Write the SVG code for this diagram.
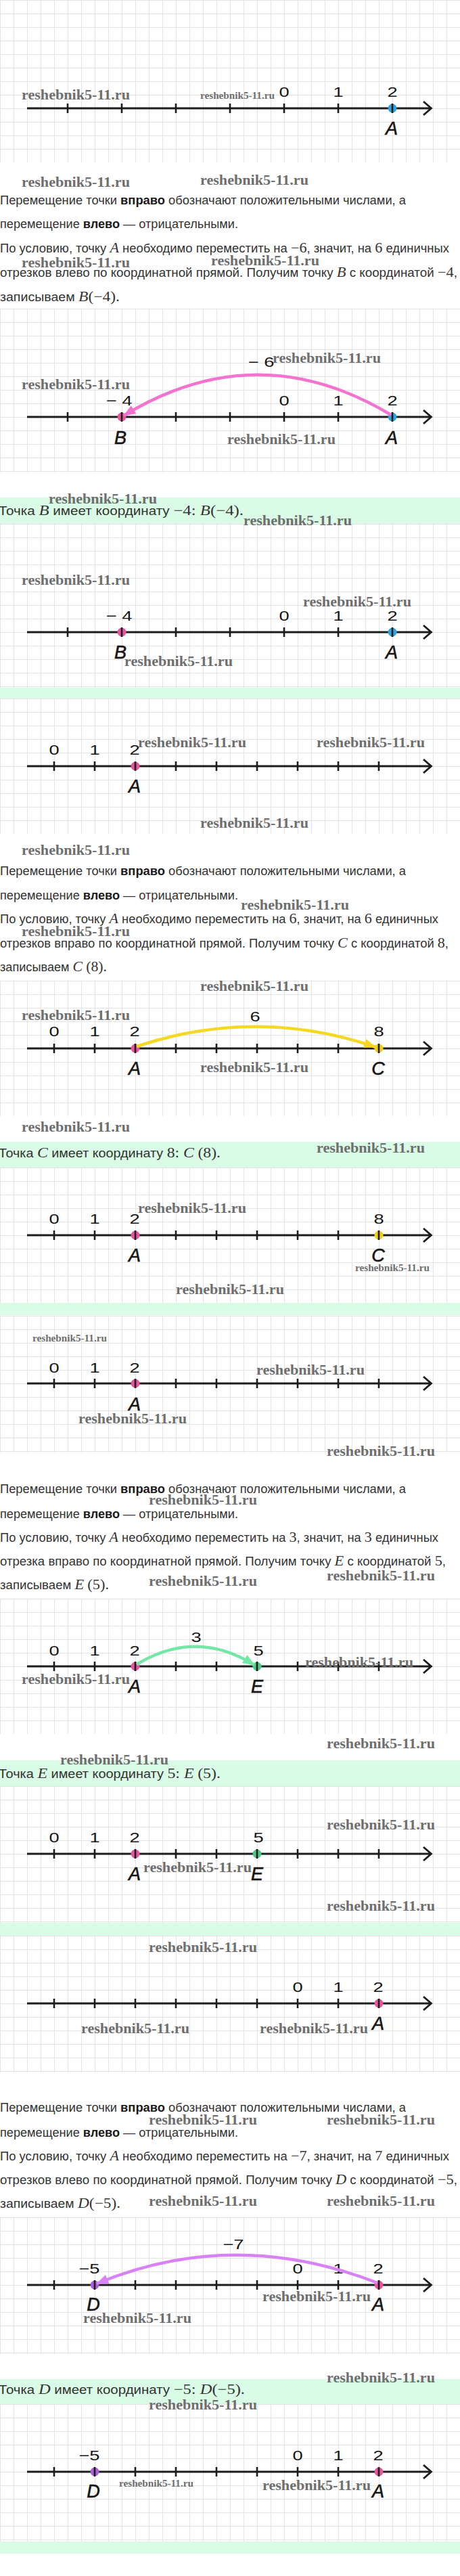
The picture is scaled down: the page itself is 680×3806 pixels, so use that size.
<svg xmlns="http://www.w3.org/2000/svg" width="680" height="3806" viewBox="0 0 680 3806">
<defs>
<style>
.t{font-family:"Liberation Sans",Arial,sans-serif;font-size:17.5px;fill:#333}
.bd{font-weight:bold;fill:#1a1a1a}
.m{font-family:"Liberation Serif","Times New Roman",serif;font-size:21px}
.mi{font-family:"Liberation Serif","Times New Roman",serif;font-size:21px;font-style:italic}
.lb{font-family:"Liberation Sans",Arial,sans-serif;font-size:21px;fill:#151515;text-anchor:middle;transform-box:fill-box;transform-origin:center;transform:scaleX(1.3)}
.pt{font-family:"Liberation Sans",Arial,sans-serif;font-size:27px;font-style:italic;fill:#151515;stroke:#151515;stroke-width:0.6;text-anchor:middle}
.wm{font-family:"Liberation Serif","Times New Roman",serif;font-weight:bold;font-size:21px;fill:#6e6e6e}
.ws{font-size:14.5px}
.ax{fill:none;stroke:#1c1c1c;stroke-width:2.8}
.tk{fill:none;stroke:#1c1c1c;stroke-width:2.6}
.grid{fill:url(#grid)}
.ans{fill:#dafbe5}
.arc{fill:none;stroke-width:4.5}
.pk{fill:#e8559f}.bl{fill:#2ea3dc}.ye{fill:#f2cf17}.gr{fill:#4cc985}.vi{fill:#a95fd8}
</style>
<pattern id="grid" width="20" height="20" patternUnits="userSpaceOnUse">
<rect width="20" height="20" fill="#fff"/>
<path d="M0 0.5H20M0.5 0V20" stroke="#e4e4e4" stroke-width="1" fill="none"/>
</pattern>
<marker id="hPink" viewBox="0 0 18 14" refX="17" refY="7" markerWidth="18" markerHeight="14" markerUnits="userSpaceOnUse" orient="auto"><path d="M0 0L18 7L0 14z" fill="#f274cf"/></marker>
<marker id="hYel" viewBox="0 0 18 14" refX="17" refY="7" markerWidth="18" markerHeight="14" markerUnits="userSpaceOnUse" orient="auto"><path d="M0 0L18 7L0 14z" fill="#f5d823"/></marker>
<marker id="hGrn" viewBox="0 0 18 14" refX="17" refY="7" markerWidth="18" markerHeight="14" markerUnits="userSpaceOnUse" orient="auto"><path d="M0 0L18 7L0 14z" fill="#74e6a6"/></marker>
<marker id="hVio" viewBox="0 0 18 14" refX="17" refY="7" markerWidth="18" markerHeight="14" markerUnits="userSpaceOnUse" orient="auto"><path d="M0 0L18 7L0 14z" fill="#d982f5"/></marker>
</defs>
<rect width="680" height="3806" fill="#fff"/>

<g id="answer-boxes">
<rect class="ans" x="0" y="735" width="680" height="297"/>
<rect class="ans" x="0" y="1687" width="680" height="256"/>
<rect class="ans" x="0" y="2601" width="680" height="261"/>
<rect class="ans" x="0" y="3515" width="680" height="258"/>
</g>

<g id="d1">
<rect class="grid" width="680" height="240"/>
<path class="ax" d="M40 160H637M626 150L637.5 160L626 170"/>
<circle class="bl" cx="580" cy="160" r="6.5"/>
<path class="tk" d="M100 153v14M180 153v14M260 153v14M340 153v14M420 153v14M500 153v14M580 153v14"/>
<text class="lb" x="420" y="143">0</text><text class="lb" x="500" y="143">1</text><text class="lb" x="580" y="143">2</text>
<text class="pt" x="579" y="199">A</text>
</g>

<g id="d2">
<rect class="grid" width="680" height="242" transform="translate(0 456)"/>
<path class="ax" d="M40 616H637M626 606L637.5 616L626 626"/>
<circle class="pk" cx="180" cy="616" r="6.5"/><circle class="bl" cx="580" cy="616" r="6.5"/>
<path class="tk" d="M100 609v14M180 609v14M260 609v14M340 609v14M420 609v14M500 609v14M580 609v14"/>
<text class="lb" x="176" y="599">− 4</text><text class="lb" x="420" y="599">0</text><text class="lb" x="500" y="599">1</text><text class="lb" x="580" y="599">2</text>
<text class="pt" x="178" y="656">B</text><text class="pt" x="579" y="656">A</text>
</g>

<g id="d3">
<rect class="grid" width="680" height="242" transform="translate(0 774)"/>
<path class="ax" d="M40 934H637M626 924L637.5 934L626 944"/>
<circle class="pk" cx="180" cy="934" r="6.5"/><circle class="bl" cx="580" cy="934" r="6.5"/>
<path class="tk" d="M100 927v14M180 927v14M260 927v14M340 927v14M420 927v14M500 927v14M580 927v14"/>
<text class="lb" x="176" y="917">− 4</text><text class="lb" x="420" y="917">0</text><text class="lb" x="500" y="917">1</text><text class="lb" x="580" y="917">2</text>
<text class="pt" x="178" y="973">B</text><text class="pt" x="579" y="973">A</text>
</g>

<g id="d4">
<rect class="grid" width="680" height="200" transform="translate(0 1032)"/>
<path class="ax" d="M40 1132H637M626 1122L637.5 1132L626 1142"/>
<circle class="pk" cx="200" cy="1132" r="6.5"/>
<path class="tk" d="M80 1125v14M140 1125v14M200 1125v14M260 1125v14M320 1125v14M380 1125v14M440 1125v14M500 1125v14M560 1125v14"/>
<text class="lb" x="80" y="1115">0</text><text class="lb" x="140" y="1115">1</text><text class="lb" x="199" y="1115">2</text>
<text class="pt" x="199" y="1171">A</text>
</g>

<g id="d5">
<rect class="grid" width="680" height="200" transform="translate(0 1449)"/>
<path class="ax" d="M40 1549H637M626 1539L637.5 1549L626 1559"/>
<circle class="pk" cx="200" cy="1549" r="6.5"/><circle class="ye" cx="560" cy="1549" r="6.5"/>
<path class="tk" d="M80 1542v14M140 1542v14M200 1542v14M260 1542v14M320 1542v14M380 1542v14M440 1542v14M500 1542v14M560 1542v14"/>
<text class="lb" x="80" y="1531">0</text><text class="lb" x="140" y="1531">1</text><text class="lb" x="199" y="1531">2</text><text class="lb" x="560" y="1531">8</text>
<text class="pt" x="199" y="1588">A</text><text class="pt" x="559" y="1588">C</text>
</g>

<g id="d6">
<rect class="grid" width="680" height="200" transform="translate(0 1725)"/>
<path class="ax" d="M40 1825H637M626 1815L637.5 1825L626 1835"/>
<circle class="pk" cx="200" cy="1825" r="6.5"/><circle class="ye" cx="560" cy="1825" r="6.5"/>
<path class="tk" d="M80 1818v14M140 1818v14M200 1818v14M260 1818v14M320 1818v14M380 1818v14M440 1818v14M500 1818v14M560 1818v14"/>
<text class="lb" x="80" y="1808">0</text><text class="lb" x="140" y="1808">1</text><text class="lb" x="199" y="1808">2</text><text class="lb" x="560" y="1808">8</text>
<text class="pt" x="199" y="1864">A</text><text class="pt" x="559" y="1864">C</text>
</g>

<g id="d7">
<rect class="grid" width="680" height="202" transform="translate(0 1944)"/>
<path class="ax" d="M40 2044H637M626 2034L637.5 2044L626 2054"/>
<circle class="pk" cx="200" cy="2044" r="6.5"/>
<path class="tk" d="M80 2037v14M140 2037v14M200 2037v14M260 2037v14M320 2037v14M380 2037v14M440 2037v14M500 2037v14M560 2037v14"/>
<text class="lb" x="80" y="2028">0</text><text class="lb" x="140" y="2028">1</text><text class="lb" x="199" y="2028">2</text>
<text class="pt" x="199" y="2084">A</text>
</g>

<g id="d8">
<rect class="grid" width="680" height="200" transform="translate(0 2362)"/>
<path class="ax" d="M40 2462H637M626 2452L637.5 2462L626 2472"/>
<circle class="pk" cx="200" cy="2462" r="6.5"/><circle class="gr" cx="380" cy="2462" r="6.5"/>
<path class="tk" d="M80 2455v14M140 2455v14M200 2455v14M260 2455v14M320 2455v14M380 2455v14M440 2455v14M500 2455v14M560 2455v14"/>
<text class="lb" x="80" y="2446">0</text><text class="lb" x="140" y="2446">1</text><text class="lb" x="199" y="2446">2</text><text class="lb" x="382" y="2446">5</text>
<text class="pt" x="199" y="2501">A</text><text class="pt" x="380" y="2501">E</text>
</g>

<g id="d9">
<rect class="grid" width="680" height="202" transform="translate(0 2639)"/>
<path class="ax" d="M40 2739H637M626 2729L637.5 2739L626 2749"/>
<circle class="pk" cx="200" cy="2739" r="6.5"/><circle class="gr" cx="380" cy="2739" r="6.5"/>
<path class="tk" d="M80 2732v14M140 2732v14M200 2732v14M260 2732v14M320 2732v14M380 2732v14M440 2732v14M500 2732v14M560 2732v14"/>
<text class="lb" x="80" y="2722">0</text><text class="lb" x="140" y="2722">1</text><text class="lb" x="199" y="2722">2</text><text class="lb" x="382" y="2722">5</text>
<text class="pt" x="199" y="2778">A</text><text class="pt" x="380" y="2778">E</text>
</g>

<g id="d10">
<rect class="grid" width="680" height="202" transform="translate(0 2860)"/>
<path class="ax" d="M40 2960H637M626 2950L637.5 2960L626 2970"/>
<circle class="pk" cx="560" cy="2960" r="6.5"/>
<path class="tk" d="M80 2953v14M140 2953v14M200 2953v14M260 2953v14M320 2953v14M380 2953v14M440 2953v14M500 2953v14M560 2953v14"/>
<text class="lb" x="440" y="2943">0</text><text class="lb" x="500" y="2943">1</text><text class="lb" x="559" y="2943">2</text>
<text class="pt" x="559" y="2999">A</text>
</g>

<g id="d11">
<rect class="grid" width="680" height="202" transform="translate(0 3276)"/>
<path class="ax" d="M40 3376H637M626 3366L637.5 3376L626 3386"/>
<circle class="vi" cx="140" cy="3376" r="6.5"/><circle class="pk" cx="560" cy="3376" r="6.5"/>
<path class="tk" d="M80 3369v14M140 3369v14M200 3369v14M260 3369v14M320 3369v14M380 3369v14M440 3369v14M500 3369v14M560 3369v14"/>
<text class="lb" x="132" y="3359">−5</text><text class="lb" x="440" y="3359">0</text><text class="lb" x="500" y="3359">1</text><text class="lb" x="559" y="3359">2</text>
<text class="pt" x="138" y="3414">D</text><text class="pt" x="559" y="3414">A</text>
</g>

<g id="d12">
<rect class="grid" width="680" height="203" transform="translate(0 3552)"/>
<path class="ax" d="M40 3652H637M626 3642L637.5 3652L626 3662"/>
<circle class="vi" cx="140" cy="3652" r="6.5"/><circle class="pk" cx="560" cy="3652" r="6.5"/>
<path class="tk" d="M80 3645v14M140 3645v14M200 3645v14M260 3645v14M320 3645v14M380 3645v14M440 3645v14M500 3645v14M560 3645v14"/>
<text class="lb" x="132" y="3635">−5</text><text class="lb" x="440" y="3635">0</text><text class="lb" x="500" y="3635">1</text><text class="lb" x="559" y="3635">2</text>
<text class="pt" x="138" y="3690">D</text><text class="pt" x="559" y="3690">A</text>
</g>

<g id="connectors">
<path class="arc" stroke="#f274cf" marker-end="url(#hPink)" d="M578 613Q380 494 183 614"/>
<text class="lb" x="386" y="542">− 6</text>
<path class="arc" stroke="#f5d823" marker-end="url(#hYel)" d="M202 1546Q380 1487 555 1547"/>
<text class="lb" x="377" y="1509">6</text>
<path class="arc" stroke="#74e6a6" marker-end="url(#hGrn)" d="M202 2459Q290 2406 376 2460"/>
<text class="lb" x="290" y="2426">3</text>
<path class="arc" stroke="#d982f5" marker-end="url(#hVio)" d="M558 3373Q345 3290 143 3374"/>
<text class="lb" x="345" y="3323">−7</text>
</g>

<g id="text1">
<text class="t" x="0" y="302" textLength="600" lengthAdjust="spacingAndGlyphs">Перемещение точки <tspan class="bd">вправо</tspan> обозначают положительными числами, а</text>
<text class="t" x="0" y="337" textLength="352" lengthAdjust="spacingAndGlyphs">перемещение <tspan class="bd">влево</tspan> — отрицательными.</text>
<text class="t" x="0" y="373" textLength="664" lengthAdjust="spacingAndGlyphs">По условию, точку <tspan class="mi">A</tspan> необходимо переместить на <tspan class="m">−6</tspan>, значит, на <tspan class="m">6</tspan> единичных</text>
<text class="t" x="0" y="409" textLength="676" lengthAdjust="spacingAndGlyphs">отрезков влево по координатной прямой. Получим точку <tspan class="mi">B</tspan> с координатой <tspan class="m">−4</tspan>,</text>
<text class="t" x="0" y="445" textLength="177" lengthAdjust="spacingAndGlyphs">записываем <tspan class="mi">B</tspan><tspan class="m">(−4).</tspan></text>
<text class="t" x="-2" y="761" textLength="362" lengthAdjust="spacingAndGlyphs">Точка <tspan class="mi">B</tspan> имеет координату <tspan class="m">−4: </tspan><tspan class="mi">B</tspan><tspan class="m">(−4).</tspan></text>
</g>
<g id="text2">
<text class="t" x="0" y="1293" textLength="600" lengthAdjust="spacingAndGlyphs">Перемещение точки <tspan class="bd">вправо</tspan> обозначают положительными числами, а</text>
<text class="t" x="0" y="1329" textLength="352" lengthAdjust="spacingAndGlyphs">перемещение <tspan class="bd">влево</tspan> — отрицательными.</text>
<text class="t" x="0" y="1364" textLength="648" lengthAdjust="spacingAndGlyphs">По условию, точку <tspan class="mi">A</tspan> необходимо переместить на <tspan class="m">6</tspan>, значит, на <tspan class="m">6</tspan> единичных</text>
<text class="t" x="0" y="1400" textLength="663" lengthAdjust="spacingAndGlyphs">отрезков вправо по координатной прямой. Получим точку <tspan class="mi">C</tspan> с координатой <tspan class="m">8</tspan>,</text>
<text class="t" x="0" y="1435" textLength="158" lengthAdjust="spacingAndGlyphs">записываем <tspan class="mi">C</tspan> <tspan class="m">(8).</tspan></text>
<text class="t" x="-2" y="1710" textLength="328" lengthAdjust="spacingAndGlyphs">Точка <tspan class="mi">C</tspan> имеет координату <tspan class="m">8: </tspan><tspan class="mi">C</tspan> <tspan class="m">(8).</tspan></text>
</g>
<g id="text3">
<text class="t" x="0" y="2206" textLength="600" lengthAdjust="spacingAndGlyphs">Перемещение точки <tspan class="bd">вправо</tspan> обозначают положительными числами, а</text>
<text class="t" x="0" y="2243" textLength="352" lengthAdjust="spacingAndGlyphs">перемещение <tspan class="bd">влево</tspan> — отрицательными.</text>
<text class="t" x="0" y="2278" textLength="648" lengthAdjust="spacingAndGlyphs">По условию, точку <tspan class="mi">A</tspan> необходимо переместить на <tspan class="m">3</tspan>, значит, на <tspan class="m">3</tspan> единичных</text>
<text class="t" x="0" y="2313" textLength="659" lengthAdjust="spacingAndGlyphs">отрезка вправо по координатной прямой. Получим точку <tspan class="mi">E</tspan> с координатой <tspan class="m">5</tspan>,</text>
<text class="t" x="0" y="2348" textLength="161" lengthAdjust="spacingAndGlyphs">записываем <tspan class="mi">E</tspan> <tspan class="m">(5).</tspan></text>
<text class="t" x="-2" y="2627" textLength="328" lengthAdjust="spacingAndGlyphs">Точка <tspan class="mi">E</tspan> имеет координату <tspan class="m">5: </tspan><tspan class="mi">E</tspan> <tspan class="m">(5).</tspan></text>
</g>
<g id="text4">
<text class="t" x="0" y="3120" textLength="600" lengthAdjust="spacingAndGlyphs">Перемещение точки <tspan class="bd">вправо</tspan> обозначают положительными числами, а</text>
<text class="t" x="0" y="3157" textLength="352" lengthAdjust="spacingAndGlyphs">перемещение <tspan class="bd">влево</tspan> — отрицательными.</text>
<text class="t" x="0" y="3192" textLength="664" lengthAdjust="spacingAndGlyphs">По условию, точку <tspan class="mi">A</tspan> необходимо переместить на <tspan class="m">−7</tspan>, значит, на <tspan class="m">7</tspan> единичных</text>
<text class="t" x="0" y="3227" textLength="676" lengthAdjust="spacingAndGlyphs">отрезков влево по координатной прямой. Получим точку <tspan class="mi">D</tspan> с координатой <tspan class="m">−5</tspan>,</text>
<text class="t" x="0" y="3262" textLength="178" lengthAdjust="spacingAndGlyphs">записываем <tspan class="mi">D</tspan><tspan class="m">(−5).</tspan></text>
<text class="t" x="-2" y="3537" textLength="364" lengthAdjust="spacingAndGlyphs">Точка <tspan class="mi">D</tspan> имеет координату <tspan class="m">−5: </tspan><tspan class="mi">D</tspan><tspan class="m">(−5).</tspan></text>
</g>

<g id="watermarks">
<text class="wm" x="32" y="147" textLength="160" lengthAdjust="spacingAndGlyphs">reshebnik5-11.ru</text>
<text class="wm ws" x="296" y="146" textLength="110" lengthAdjust="spacingAndGlyphs">reshebnik5-11.ru</text>
<text class="wm" x="32" y="276" textLength="160" lengthAdjust="spacingAndGlyphs">reshebnik5-11.ru</text>
<text class="wm" x="296" y="273" textLength="160" lengthAdjust="spacingAndGlyphs">reshebnik5-11.ru</text>
<text class="wm" x="32" y="395" textLength="160" lengthAdjust="spacingAndGlyphs">reshebnik5-11.ru</text>
<text class="wm" x="312" y="392" textLength="160" lengthAdjust="spacingAndGlyphs">reshebnik5-11.ru</text>
<text class="wm" x="403" y="536" textLength="160" lengthAdjust="spacingAndGlyphs">reshebnik5-11.ru</text>
<text class="wm" x="32" y="575" textLength="160" lengthAdjust="spacingAndGlyphs">reshebnik5-11.ru</text>
<text class="wm" x="336" y="656" textLength="160" lengthAdjust="spacingAndGlyphs">reshebnik5-11.ru</text>
<text class="wm" x="72" y="744" textLength="160" lengthAdjust="spacingAndGlyphs">reshebnik5-11.ru</text>
<text class="wm" x="360" y="776" textLength="160" lengthAdjust="spacingAndGlyphs">reshebnik5-11.ru</text>
<text class="wm" x="32" y="864" textLength="160" lengthAdjust="spacingAndGlyphs">reshebnik5-11.ru</text>
<text class="wm" x="448" y="896" textLength="160" lengthAdjust="spacingAndGlyphs">reshebnik5-11.ru</text>
<text class="wm" x="184" y="984" textLength="160" lengthAdjust="spacingAndGlyphs">reshebnik5-11.ru</text>
<text class="wm" x="204" y="1104" textLength="160" lengthAdjust="spacingAndGlyphs">reshebnik5-11.ru</text>
<text class="wm" x="468" y="1104" textLength="160" lengthAdjust="spacingAndGlyphs">reshebnik5-11.ru</text>
<text class="wm" x="296" y="1223" textLength="160" lengthAdjust="spacingAndGlyphs">reshebnik5-11.ru</text>
<text class="wm" x="32" y="1263" textLength="160" lengthAdjust="spacingAndGlyphs">reshebnik5-11.ru</text>
<text class="wm" x="356" y="1344" textLength="160" lengthAdjust="spacingAndGlyphs">reshebnik5-11.ru</text>
<text class="wm" x="32" y="1383" textLength="160" lengthAdjust="spacingAndGlyphs">reshebnik5-11.ru</text>
<text class="wm" x="296" y="1464" textLength="160" lengthAdjust="spacingAndGlyphs">reshebnik5-11.ru</text>
<text class="wm" x="32" y="1507" textLength="160" lengthAdjust="spacingAndGlyphs">reshebnik5-11.ru</text>
<text class="wm" x="296" y="1584" textLength="160" lengthAdjust="spacingAndGlyphs">reshebnik5-11.ru</text>
<text class="wm" x="32" y="1672" textLength="160" lengthAdjust="spacingAndGlyphs">reshebnik5-11.ru</text>
<text class="wm" x="468" y="1703" textLength="160" lengthAdjust="spacingAndGlyphs">reshebnik5-11.ru</text>
<text class="wm" x="204" y="1792" textLength="160" lengthAdjust="spacingAndGlyphs">reshebnik5-11.ru</text>
<text class="wm ws" x="525" y="1878" textLength="110" lengthAdjust="spacingAndGlyphs">reshebnik5-11.ru</text>
<text class="wm" x="260" y="1912" textLength="160" lengthAdjust="spacingAndGlyphs">reshebnik5-11.ru</text>
<text class="wm ws" x="48" y="1982" textLength="110" lengthAdjust="spacingAndGlyphs">reshebnik5-11.ru</text>
<text class="wm" x="379" y="2031" textLength="160" lengthAdjust="spacingAndGlyphs">reshebnik5-11.ru</text>
<text class="wm" x="116" y="2103" textLength="160" lengthAdjust="spacingAndGlyphs">reshebnik5-11.ru</text>
<text class="wm" x="483" y="2151" textLength="160" lengthAdjust="spacingAndGlyphs">reshebnik5-11.ru</text>
<text class="wm" x="220" y="2223" textLength="160" lengthAdjust="spacingAndGlyphs">reshebnik5-11.ru</text>
<text class="wm" x="483" y="2335" textLength="160" lengthAdjust="spacingAndGlyphs">reshebnik5-11.ru</text>
<text class="wm" x="220" y="2343" textLength="160" lengthAdjust="spacingAndGlyphs">reshebnik5-11.ru</text>
<text class="wm" x="451" y="2463" textLength="160" lengthAdjust="spacingAndGlyphs">reshebnik5-11.ru</text>
<text class="wm" x="32" y="2488" textLength="160" lengthAdjust="spacingAndGlyphs">reshebnik5-11.ru</text>
<text class="wm" x="483" y="2583" textLength="160" lengthAdjust="spacingAndGlyphs">reshebnik5-11.ru</text>
<text class="wm" x="89" y="2607" textLength="160" lengthAdjust="spacingAndGlyphs">reshebnik5-11.ru</text>
<text class="wm" x="483" y="2703" textLength="160" lengthAdjust="spacingAndGlyphs">reshebnik5-11.ru</text>
<text class="wm" x="212" y="2766" textLength="160" lengthAdjust="spacingAndGlyphs">reshebnik5-11.ru</text>
<text class="wm" x="483" y="2823" textLength="160" lengthAdjust="spacingAndGlyphs">reshebnik5-11.ru</text>
<text class="wm" x="220" y="2884" textLength="160" lengthAdjust="spacingAndGlyphs">reshebnik5-11.ru</text>
<text class="wm" x="120" y="3004" textLength="160" lengthAdjust="spacingAndGlyphs">reshebnik5-11.ru</text>
<text class="wm" x="384" y="3004" textLength="160" lengthAdjust="spacingAndGlyphs">reshebnik5-11.ru</text>
<text class="wm" x="220" y="3139" textLength="160" lengthAdjust="spacingAndGlyphs">reshebnik5-11.ru</text>
<text class="wm" x="483" y="3139" textLength="160" lengthAdjust="spacingAndGlyphs">reshebnik5-11.ru</text>
<text class="wm" x="220" y="3259" textLength="160" lengthAdjust="spacingAndGlyphs">reshebnik5-11.ru</text>
<text class="wm" x="483" y="3259" textLength="160" lengthAdjust="spacingAndGlyphs">reshebnik5-11.ru</text>
<text class="wm" x="388" y="3400" textLength="160" lengthAdjust="spacingAndGlyphs">reshebnik5-11.ru</text>
<text class="wm" x="123" y="3432" textLength="160" lengthAdjust="spacingAndGlyphs">reshebnik5-11.ru</text>
<text class="wm" x="483" y="3520" textLength="160" lengthAdjust="spacingAndGlyphs">reshebnik5-11.ru</text>
<text class="wm" x="220" y="3560" textLength="160" lengthAdjust="spacingAndGlyphs">reshebnik5-11.ru</text>
<text class="wm ws" x="176" y="3674" textLength="110" lengthAdjust="spacingAndGlyphs">reshebnik5-11.ru</text>
<text class="wm" x="388" y="3679" textLength="160" lengthAdjust="spacingAndGlyphs">reshebnik5-11.ru</text>
</g>
</svg>
